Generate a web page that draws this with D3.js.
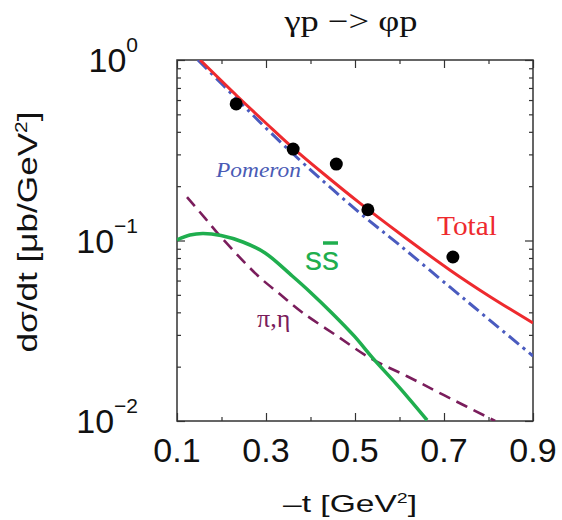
<!DOCTYPE html>
<html>
<head>
<meta charset="utf-8">
<script src="https://cdn.jsdelivr.net/npm/d3@7"></script>
<style>
  body { margin: 0; background: #fff; }
  svg { display: block; }
</style>
</head>
<body>
<div id="chart"></div>
<script>
// data
const tTotal = [0.152, 0.235, 0.302, 0.361, 0.430, 0.511, 0.599, 0.713, 0.801, 0.90];
const total = [1.0, 0.632, 0.442, 0.325, 0.2335, 0.161, 0.110, 0.0687, 0.0493, 0.0349];

const tPomeron = [0.147, 0.248, 0.309, 0.388, 0.511, 0.60, 0.713, 0.80, 0.90];
const pomeron = [1.0, 0.563, 0.399, 0.262, 0.142, 0.0944, 0.0553, 0.0367, 0.0229];

const tSS = [0.10, 0.129, 0.158, 0.199, 0.248, 0.298, 0.359, 0.399, 0.448, 0.498, 0.540, 0.599, 0.662];
const ssbar = [0.1007, 0.1072, 0.1094, 0.1066, 0.0981, 0.0853, 0.0636, 0.0519, 0.0397, 0.0296, 0.0223, 0.0154, 0.0101];

const tPiEta = [0.1225, 0.163, 0.199, 0.280, 0.331, 0.383, 0.457, 0.534, 0.617, 0.700, 0.815];
const piEta = [0.174, 0.133, 0.1045, 0.0644, 0.0505, 0.0397, 0.0299, 0.0223, 0.0177, 0.0139, 0.0100];

const dataT = [0.233, 0.361, 0.458, 0.529, 0.720];
const dataY = [0.571, 0.321, 0.265, 0.148, 0.081];

const xMajor = [0.1, 0.3, 0.5, 0.7, 0.9];
const xMinor = [0.2, 0.4, 0.6, 0.8];
const yMajor = [0.01, 0.1, 1];
const yExp = ['\u22122', '\u22121', '0'];

// layout
const W = 562, H = 520;
const margin = {left: 177, right: 29, top: 60, bottom: 99};
const width = W - margin.left - margin.right;
const height = H - margin.top - margin.bottom;

const svg = d3.select('#chart').append('svg')
    .attr('width', W)
    .attr('height', H);

const x = d3.scaleLinear().domain([0.1, 0.9]).range([margin.left, margin.left + width]);
const y = d3.scaleLog().domain([0.01, 1]).range([margin.top + height, margin.top]);

svg.append('clipPath').attr('id', 'plotClip')
  .append('rect')
    .attr('x', margin.left).attr('y', margin.top)
    .attr('width', width).attr('height', height);

// ticks (pointing inward) on all four sides
const yMinor = y.ticks().filter(v => !yMajor.some(m => Math.abs(m - v) < 1e-9));

function tickGroup(axis, tx, ty) {
    svg.append('g')
        .attr('transform', `translate(${tx},${ty})`)
        .call(axis)
        .call(g => g.select('.domain').remove())
        .call(g => g.selectAll('.tick line').attr('stroke', '#333').attr('stroke-width', 1.2));
}
tickGroup(d3.axisBottom(x).tickValues(xMajor).tickSize(-8).tickFormat(''), 0, margin.top + height);
tickGroup(d3.axisBottom(x).tickValues(xMinor).tickSize(-4).tickFormat(''), 0, margin.top + height);
tickGroup(d3.axisTop(x).tickValues(xMajor).tickSize(-8).tickFormat(''), 0, margin.top);
tickGroup(d3.axisTop(x).tickValues(xMinor).tickSize(-4).tickFormat(''), 0, margin.top);
tickGroup(d3.axisLeft(y).tickValues(yMajor).tickSize(-8).tickFormat(''), margin.left, 0);
tickGroup(d3.axisLeft(y).tickValues(yMinor).tickSize(-4).tickFormat(''), margin.left, 0);
tickGroup(d3.axisRight(y).tickValues(yMajor).tickSize(-8).tickFormat(''), margin.left + width, 0);
tickGroup(d3.axisRight(y).tickValues(yMinor).tickSize(-4).tickFormat(''), margin.left + width, 0);

// frame
svg.append('rect')
    .attr('x', margin.left).attr('y', margin.top)
    .attr('width', width).attr('height', height)
    .attr('fill', 'none')
    .attr('stroke', '#333')
    .attr('stroke-width', 1.5);

// x tick labels
svg.append('g').selectAll('text')
    .data(xMajor)
    .enter().append('text')
      .attr('x', d => x(d))
      .attr('y', margin.top + height + 41)
      .attr('text-anchor', 'middle')
      .style('font-family', 'Liberation Sans, Arial, sans-serif')
      .style('font-size', '34px')
      .attr('fill', '#111')
      .text(d => d3.format('.1f')(d));

// y tick labels 10^n
const yl = svg.append('g').selectAll('text')
    .data(yMajor)
    .enter().append('text')
      .attr('x', margin.left - 39)
      .attr('y', d => y(d) + 12)
      .attr('text-anchor', 'end')
      .style('font-family', 'Liberation Sans, Arial, sans-serif')
      .attr('fill', '#111');
yl.append('tspan').style('font-size', '34px').text('10');
yl.append('tspan').style('font-size', '21px').attr('dy', -20).text((d, i) => yExp[i]);

// curves
const line = d3.line()
    .x(d => x(d[0]))
    .y(d => y(d[1]))
    .curve(d3.curveCatmullRom.alpha(0.5));

const curves = svg.append('g').attr('clip-path', 'url(#plotClip)');

curves.append('path')
    .datum(tPiEta.map((t, i) => [t, piEta[i]]))
    .attr('d', line)
    .attr('fill', 'none')
    .attr('stroke', '#7a1d5c')
    .attr('stroke-width', 2.6)
    .attr('stroke-dasharray', '12,7');

curves.append('path')
    .datum(tSS.map((t, i) => [t, ssbar[i]]))
    .attr('d', line)
    .attr('fill', 'none')
    .attr('stroke', '#1fae4e')
    .attr('stroke-width', 3.5);

curves.append('path')
    .datum(tPomeron.map((t, i) => [t, pomeron[i]]))
    .attr('d', line)
    .attr('fill', 'none')
    .attr('stroke', '#4a5bbf')
    .attr('stroke-width', 3)
    .attr('stroke-dasharray', '13,5,3,5');

curves.append('path')
    .datum(tTotal.map((t, i) => [t, total[i]]))
    .attr('d', line)
    .attr('fill', 'none')
    .attr('stroke', '#ee2a2e')
    .attr('stroke-width', 3);

// data points
svg.append('g').selectAll('circle')
    .data(dataT.map((t, i) => [t, dataY[i]]))
    .enter().append('circle')
      .attr('cx', d => x(d[0]))
      .attr('cy', d => y(d[1]))
      .attr('r', 6.5)
      .attr('fill', '#000');

// curve labels
svg.append('text')
    .attr('x', 216).attr('y', 177)
    .attr('textLength', 85).attr('lengthAdjust', 'spacingAndGlyphs')
    .style('font-family', 'Liberation Serif, Times New Roman, serif')
    .style('font-style', 'italic')
    .style('font-size', '22px')
    .attr('fill', '#4a5bb5')
    .text('Pomeron');

svg.append('text')
    .attr('x', 437).attr('y', 235)
    .attr('textLength', 60).attr('lengthAdjust', 'spacingAndGlyphs')
    .style('font-family', 'Liberation Serif, Times New Roman, serif')
    .style('font-size', '27px')
    .attr('fill', '#ee2a2e')
    .text('Total');

const ssLabel = svg.append('text')
    .attr('x', 305).attr('y', 270)
    .style('font-family', 'Liberation Sans, Arial, sans-serif')
    .style('font-size', '34px')
    .attr('fill', '#1fae4e')
    .text('ss');
const sBar0 = ssLabel.node().getStartPositionOfChar(1).x;
const sBar1 = ssLabel.node().getEndPositionOfChar(1).x;
svg.append('line')
    .attr('x1', sBar0 + 1).attr('x2', sBar1 - 1)
    .attr('y1', 243).attr('y2', 243)
    .attr('stroke', '#1fae4e')
    .attr('stroke-width', 3.5);

svg.append('text')
    .attr('x', 257).attr('y', 327)
    .style('font-family', 'Liberation Serif, Times New Roman, serif')
    .style('font-size', '26px')
    .attr('fill', '#7a1d5c')
    .text('\u03c0,\u03b7');

// titles
svg.append('text')
    .attr('x', 351).attr('y', 31)
    .attr('text-anchor', 'middle')
    .attr('textLength', 133).attr('lengthAdjust', 'spacingAndGlyphs')
    .style('font-family', 'Liberation Serif, Times New Roman, serif')
    .style('font-size', '30px')
    .attr('fill', '#111')
    .text('\u03b3p \u2212> \u03c6p');

const xt = svg.append('text')
    .attr('x', 350).attr('y', 512)
    .attr('text-anchor', 'middle')
    .attr('textLength', 134).attr('lengthAdjust', 'spacingAndGlyphs')
    .style('font-family', 'Liberation Sans, Arial, sans-serif')
    .style('font-size', '24px')
    .attr('fill', '#111');
xt.append('tspan').text('\u2013t [GeV');
xt.append('tspan').attr('dy', -9).style('font-size', '14px').text('2');
xt.append('tspan').attr('dy', 9).text(']');

const yt = svg.append('text')
    .attr('transform', 'translate(37,232) rotate(-90)')
    .attr('text-anchor', 'middle')
    .attr('textLength', 241).attr('lengthAdjust', 'spacingAndGlyphs')
    .style('font-family', 'Liberation Sans, Arial, sans-serif')
    .style('font-size', '27px')
    .attr('fill', '#111');
yt.append('tspan').text('d\u03c3/dt [\u03bcb/GeV');
yt.append('tspan').attr('dy', -10).style('font-size', '16px').text('2');
yt.append('tspan').attr('dy', 10).text(']');
</script>
</body>
</html>
